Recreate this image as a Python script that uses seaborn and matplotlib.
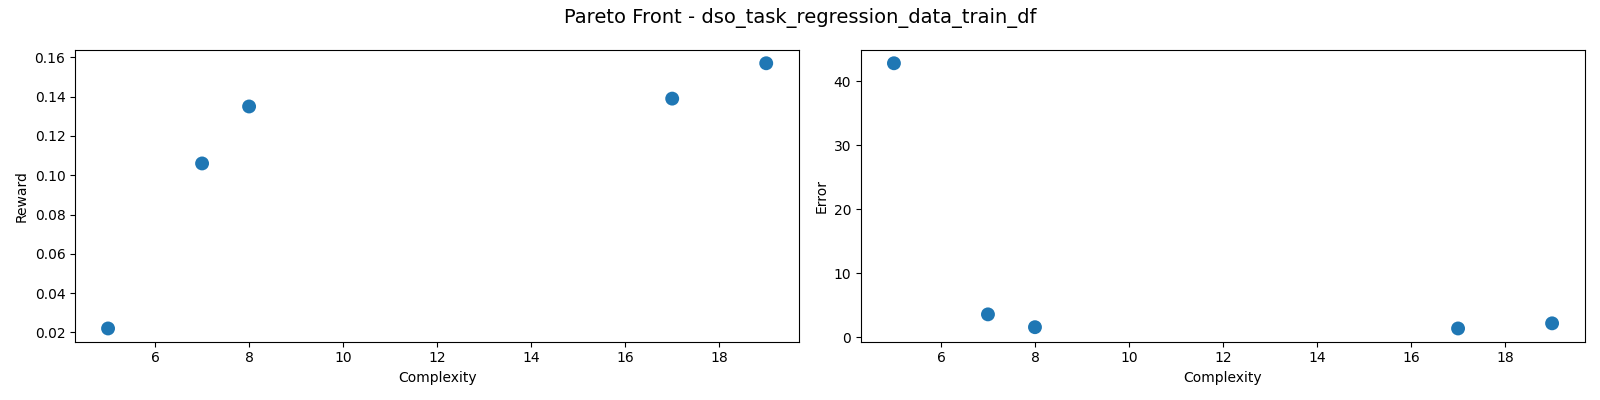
import pandas as pd
import matplotlib
matplotlib.use("Agg")
import matplotlib.pyplot as plt
import seaborn as sns

complexity = [5, 7, 8, 17, 19]
reward = [0.022, 0.106, 0.135, 0.139, 0.157]
error = [42.8, 3.6, 1.6, 1.4, 2.2]

df = pd.DataFrame({"Complexity": complexity, "Reward": reward, "Error": error})

fig, axes = plt.subplots(1, 2, figsize=(16, 4), dpi=100)

sns.scatterplot(data=df, x="Complexity", y="Reward", ax=axes[0], s=100, color="#1f77b4", edgecolor="none")
sns.scatterplot(data=df, x="Complexity", y="Error", ax=axes[1], s=100, color="#1f77b4", edgecolor="none")

fig.suptitle("Pareto Front - dso_task_regression_data_train_df", fontsize=14)
plt.tight_layout()
plt.savefig("out.png")
